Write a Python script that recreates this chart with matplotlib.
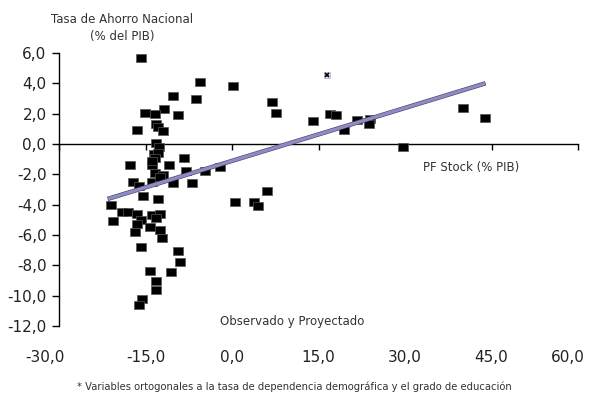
import matplotlib.pyplot as plt
import matplotlib.patheffects as pe
import matplotlib.transforms as mtransforms

# datos
pf_stock = [-15.7, 0.2, -5.5, -10.3, -6.3, 6.9, 7.6, -11.8, -9.3, -15.1, -13.4, -13.1, -12.8, -11.9, -16.5, -13.1, -12.7,
            -13.6, -12.8, -13.4, -13.9, -11.0, -8.4, -13.4, -11.9, -7.9, -7.0, -10.2, -4.6, -2.1, -17.7, -17.1, -16.2,
            -13.9, -15.4, -12.8, -13.9, -12.5,
            -20.9, -19.1, -18.0, -16.5, -13.9, -12.5, -13.1, -15.7, -20.6, -16.5, -14.2, -12.5, -16.8, -12.2,
            -15.7, -9.3, -9.0, -14.3, -10.6, -13.1, -13.1, -15.6, -16.2,
            6.1, 0.5, 3.9, 4.5,
            14.1, 17.0, 18.0, 19.5, 21.6, 23.9, 23.8, 29.7, 40.1, 43.8]
ahorro = [5.65, 3.8, 4.07, 3.15, 3.0, 2.8, 2.05, 2.3, 1.9, 2.05, 1.95, 1.32, 1.1, 0.88, 0.92, 0.09, -0.18,
          -0.66, -0.6, -0.95, -1.38, -1.38, -0.9, -1.9, -2.05, -1.8, -2.6, -2.6, -1.75, -1.5, -1.4, -2.5, -2.8,
          -2.5, -3.4, -3.6, -1.1, -2.2,
          -4.0, -4.5, -4.5, -4.6, -4.7, -4.6, -4.9, -5.0, -5.1, -5.3, -5.5, -5.7, -5.8, -6.2,
          -6.8, -7.05, -7.8, -8.4, -8.45, -9.0, -9.6, -10.2, -10.6,
          -3.1, -3.85, -3.8, -4.1,
          1.5, 2.0, 1.9, 0.92, 1.58, 1.67, 1.32, -0.22, 2.35, 1.71]
punto_x = [16.4]
punto_y = [4.55]
tend_x = [-21.2, 43.6]
tend_y = [-3.58, 3.96]

xticks = [-30, -15, 0, 15, 30, 45, 60]
yticks = [-12, -10, -8, -6, -4, -2, 0, 2, 4, 6]

gris = '#333333'
plt.rcParams['font.family'] = ['DejaVu Sans']

fig = plt.figure(figsize=(5.89, 3.98), dpi=100)
ax = fig.add_axes([59/589, 72/398, 519/589, 273/398])

rect = [(-1, -0.7), (1, -0.7), (1, 0.7), (-1, 0.7), (-1, -0.7)]
ax.plot(pf_stock, ahorro, linestyle='none', marker=rect, markersize=7.3,
        markerfacecolor='black', markeredgecolor='#555555', markeredgewidth=0.5, zorder=3)
ax.plot(punto_x, punto_y, linestyle='none', marker='s', markersize=5,
        markerfacecolor='#e4e4f0', markeredgecolor='#aaaacc', markeredgewidth=0.5, zorder=3)
ax.plot(punto_x, punto_y, linestyle='none', marker='x', markersize=3.5,
        color='black', markeredgewidth=1.2, zorder=4)

ax.plot(tend_x, tend_y, color='#8f8cc4', linewidth=2.3, zorder=4,
        path_effects=[pe.Stroke(linewidth=3.2, foreground='#4a4570'), pe.Normal()])

ax.set_xlim(-30, 60)
ax.set_ylim(-12, 6)
ax.spines['top'].set_visible(False)
ax.spines['right'].set_visible(False)
ax.spines['bottom'].set_position(('data', 0))
ax.spines['bottom'].set_linewidth(1)
ax.spines['left'].set_linewidth(1)

ax.set_xticks(xticks)
ax.set_xticklabels([])
ax.tick_params(axis='x', direction='out', length=4, width=1)
for i, t in enumerate(xticks):
    # los extremos quedan un poco hacia adentro/afuera como en el original
    dx = -14 if i == 0 else (-10 if i == len(xticks) - 1 else 0)
    tr = ax.get_xaxis_transform() + mtransforms.ScaledTranslation(dx / 100, 0, fig.dpi_scale_trans)
    ax.text(t, -0.114, f'{t:.1f}'.replace('.', ','), transform=tr,
            ha='center', va='center', fontsize=11, color='#222222')

ax.set_yticks(yticks)
ax.set_yticklabels([f'{v:.1f}'.replace('.', ',') for v in yticks], fontsize=11, color='#222222')
ax.tick_params(axis='y', direction='out', length=5, width=1, pad=4)

fig.text(122/589, 1 - 28/398, 'Tasa de Ahorro Nacional\n(% del PIB)', ha='center', va='center',
         fontsize=8.5, color=gris, linespacing=1.35)
fig.text(423/589, 1 - 167/398, 'PF Stock (% PIB)', ha='left', va='center', fontsize=8.5, color=gris)
fig.text(292/589, 1 - 322/398, 'Observado y Proyectado', ha='center', va='center', fontsize=8.5, color=gris)
fig.text(294/589, 1 - 387/398,
         '* Variables ortogonales a la tasa de dependencia demográfica y el grado de educación',
         ha='center', va='center', fontsize=7.2, color=gris)

fig.savefig('out.png', dpi=100)
